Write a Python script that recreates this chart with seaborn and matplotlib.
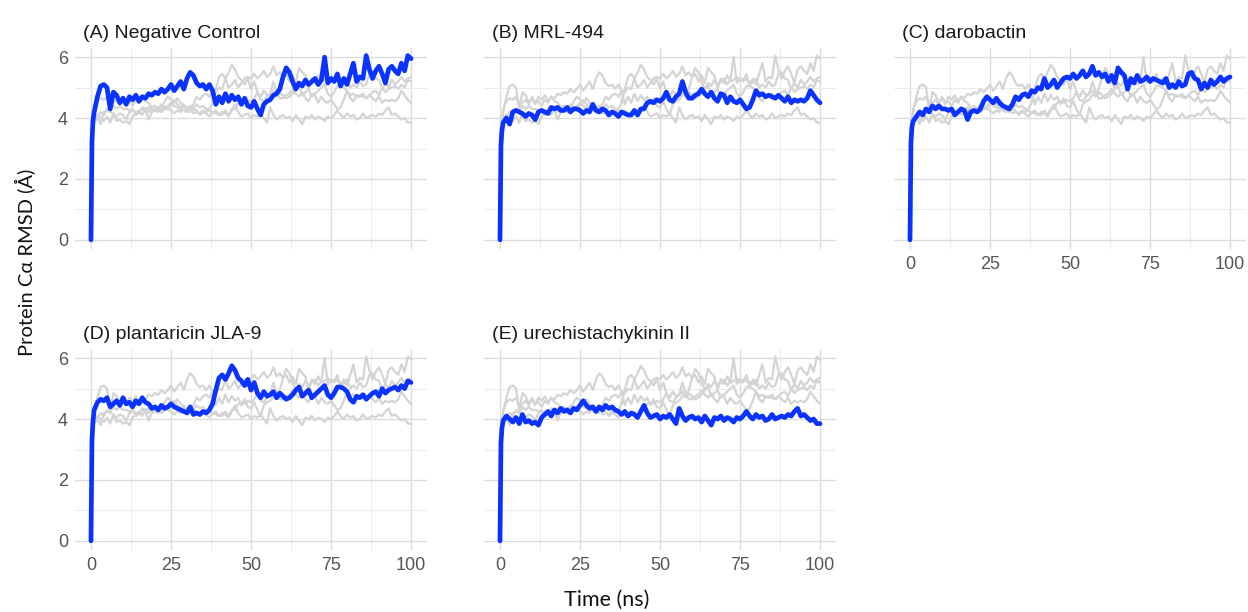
import matplotlib
matplotlib.use("Agg")
import matplotlib.pyplot as plt
import numpy as np
import pandas as pd
import seaborn as sns

# sampling grid (ns): fast initial rise, then 1 ns steps
time_ns = [0, 0.3, 0.6] + list(range(1, 101))

systems = [
    "(A) Negative Control",
    "(B) MRL-494",
    "(C) darobactin",
    "(D) plantaricin JLA-9",
    "(E) urechistachykinin II",
]

rmsd_a = [0.0, 3.2, 3.9,
          4.2, 4.7, 5.05, 5.1, 5.0, 4.3, 4.85, 4.75, 4.5, 4.65,
          4.45, 4.7, 4.6, 4.75, 4.55, 4.7, 4.65, 4.8, 4.75, 4.85,
          4.8, 4.95, 4.85, 4.95, 5.1, 4.9, 5.05, 5.2, 4.95, 5.3,
          5.5, 5.4, 5.15, 5.05, 5.1, 4.95, 5.1, 4.9, 4.45, 4.7,
          4.5, 4.8, 4.55, 4.75, 4.6, 4.7, 4.45, 4.65, 4.4, 4.35,
          4.55, 4.3, 4.1, 4.45, 4.55, 4.6, 4.75, 4.8, 4.95, 5.35,
          5.65, 5.5, 5.2, 4.95, 5.15, 5.05, 5.25, 5.1, 5.2, 5.3,
          5.1, 5.25, 6.0, 5.15, 5.3, 5.2, 5.45, 5.05, 5.3, 5.1,
          5.45, 5.8, 5.2, 5.35, 5.3, 6.05, 5.6, 5.3, 5.55, 5.7,
          5.45, 5.15, 5.6, 5.7, 5.55, 5.45, 5.8, 5.55, 6.05, 5.95]

rmsd_b = [0.0, 3.1, 3.6,
          3.85, 4.0, 3.8, 4.2, 4.25, 4.2, 4.15, 4.05, 4.15, 4.1,
          3.95, 4.2, 4.25, 4.2, 4.15, 4.35, 4.3, 4.35, 4.25, 4.25,
          4.35, 4.2, 4.3, 4.3, 4.25, 4.15, 4.25, 4.2, 4.45, 4.25,
          4.2, 4.3, 4.25, 4.1, 4.2, 4.15, 4.05, 4.2, 4.15, 4.1,
          4.1, 4.25, 4.1, 4.3, 4.3, 4.5, 4.55, 4.5, 4.6, 4.55,
          4.65, 4.85, 4.6, 4.55, 4.7, 4.8, 5.2, 4.85, 4.65, 4.65,
          4.75, 4.8, 4.95, 4.8, 4.7, 4.85, 4.65, 4.55, 4.8, 4.75,
          4.5, 4.7, 4.55, 4.5, 4.6, 4.45, 4.3, 4.35, 4.6, 4.9,
          4.75, 4.8, 4.7, 4.75, 4.7, 4.65, 4.75, 4.65, 4.55, 4.7,
          4.5, 4.6, 4.55, 4.6, 4.55, 4.65, 4.9, 4.75, 4.6, 4.5]

rmsd_c = [0.0, 3.2, 3.7,
          3.9, 4.05, 4.2, 4.1, 4.3, 4.2, 4.4, 4.3, 4.4, 4.3,
          4.3, 4.25, 4.3, 4.1, 4.2, 4.3, 4.25, 3.95, 4.2, 4.25,
          4.2, 4.3, 4.55, 4.7, 4.6, 4.5, 4.65, 4.5, 4.4, 4.35,
          4.3, 4.45, 4.7, 4.6, 4.75, 4.8, 4.7, 4.9, 4.85, 5.0,
          4.95, 5.3, 5.0, 5.1, 5.25, 5.0, 5.15, 5.3, 5.35, 5.3,
          5.45, 5.3, 5.4, 5.55, 5.35, 5.45, 5.7, 5.4, 5.5, 5.35,
          5.45, 5.2, 5.4, 5.15, 5.65, 5.5, 5.4, 4.95, 5.3, 5.15,
          5.4, 5.2, 5.25, 5.35, 5.2, 5.3, 5.25, 5.2, 5.15, 5.3,
          5.0, 5.1, 5.0, 5.2, 5.05, 5.1, 5.45, 5.5, 5.3, 5.25,
          4.95, 5.15, 5.0, 5.25, 5.1, 5.2, 5.35, 5.2, 5.3, 5.35]

rmsd_d = [0.0, 3.3, 3.9,
          4.3, 4.55, 4.65, 4.6, 4.7, 4.4, 4.5, 4.6, 4.45, 4.7,
          4.5, 4.55, 4.4, 4.6, 4.5, 4.7, 4.55, 4.5, 4.35, 4.4,
          4.3, 4.45, 4.35, 4.4, 4.5, 4.4, 4.35, 4.3, 4.25, 4.2,
          4.4, 4.15, 4.2, 4.15, 4.25, 4.2, 4.3, 4.5, 4.95, 5.35,
          5.45, 5.3, 5.5, 5.75, 5.6, 5.35, 5.25, 5.1, 5.3, 4.95,
          5.2, 4.85, 4.7, 4.9, 4.75, 4.8, 4.9, 4.7, 4.85, 4.75,
          4.65, 4.7, 4.8, 4.95, 5.05, 4.75, 4.85, 4.95, 4.7, 4.8,
          4.9, 5.0, 5.1, 4.8, 4.7, 4.85, 5.05, 5.05, 5.0, 4.9,
          4.65, 4.55, 4.75, 4.7, 4.8, 4.65, 4.75, 4.85, 4.9, 4.75,
          5.0, 4.85, 4.95, 5.0, 5.05, 4.95, 5.1, 5.0, 5.25, 5.2]

rmsd_e = [0.0, 3.2, 3.7,
          3.95, 4.1, 4.0, 3.9, 4.05, 3.85, 4.15, 3.9, 3.95, 3.85,
          3.9, 3.8, 4.05, 4.15, 4.25, 4.1, 4.3, 4.2, 4.35, 4.25,
          4.3, 4.2, 4.35, 4.3, 4.45, 4.6, 4.45, 4.35, 4.4, 4.25,
          4.4, 4.3, 4.45, 4.35, 4.4, 4.3, 4.25, 4.15, 4.25, 4.1,
          4.2, 4.15, 4.05, 4.25, 4.45, 4.2, 4.05, 4.1, 4.15, 4.0,
          4.1, 4.05, 4.15, 4.0, 3.85, 4.35, 4.1, 3.95, 4.05, 4.1,
          4.0, 4.05, 3.9, 4.1, 3.95, 3.8, 4.05, 4.0, 4.1, 3.95,
          4.05, 4.0, 3.9, 4.05, 4.0, 4.1, 4.25, 4.1, 4.0, 4.15,
          4.05, 4.1, 3.95, 4.0, 4.15, 4.0, 4.05, 4.1, 4.05, 4.15,
          4.1, 4.25, 4.35, 4.1, 4.15, 4.05, 3.95, 4.0, 3.85, 3.85]

all_rmsd = [rmsd_a, rmsd_b, rmsd_c, rmsd_d, rmsd_e]

df = pd.concat(
    [pd.DataFrame({"time": time_ns, "rmsd": vals, "system": name})
     for name, vals in zip(systems, all_rmsd)],
    ignore_index=True,
)

sns.set_theme(style="white")
plt.rcParams["font.family"] = ["Liberation Sans", "DejaVu Sans"]

fig = plt.figure(figsize=(12.48, 6.12), dpi=100)
W, H = 1248, 612
lefts = [75, 484, 894]
bottoms = [249, 550]  # pixel row of the lower axes edge
pw, ph = 352, 201

grey_line = "#d4d4d4"
blue_line = "#0a33ff"

for i, name in enumerate(systems):
    row, col = divmod(i, 3)
    ax = fig.add_axes([lefts[col] / W, 1 - bottoms[row] / H, pw / W, ph / H])

    sns.lineplot(data=df, x="time", y="rmsd", units="system", estimator=None,
                 color=grey_line, linewidth=1.6, ax=ax, zorder=2)
    sns.lineplot(data=df[df["system"] == name], x="time", y="rmsd",
                 color=blue_line, linewidth=3.4, ax=ax, zorder=3)

    ax.set_xlim(-5, 105)
    ax.set_ylim(-0.3, 6.3)
    ax.set_xticks([0, 25, 50, 75, 100])
    ax.set_xticks([12.5, 37.5, 62.5, 87.5], minor=True)
    ax.set_yticks([0, 2, 4, 6])
    ax.set_yticks([1, 3, 5], minor=True)
    ax.grid(which="major", color="#dcdcdc", linewidth=1.0)
    ax.grid(which="minor", color="#e8e8e8", linewidth=0.6)
    ax.set_axisbelow(True)
    for sp in ax.spines.values():
        sp.set_visible(False)
    ax.tick_params(which="both", length=0, labelsize=13,
                   labelcolor="#555555", pad=5)
    ax.set_xlabel("")
    ax.set_ylabel("")

    show_x = (row == 1) or (col == 2)
    if not show_x:
        ax.set_xticklabels([])
    if col != 0:
        ax.set_yticklabels([])

    ax.text(0.022, 1.03, name, transform=ax.transAxes, ha="left", va="bottom",
            fontsize=14, color="#1a1a1a")

fig.text(607 / W, 1 - 600 / H, "Time (ns)", ha="center", va="center",
         fontsize=15.5, family=["Lato", "DejaVu Sans"], color="#111111")
fig.text(25 / W, 1 - 262 / H, "Protein C\u03b1 RMSD (\u00c5)", ha="center",
         va="center", rotation=90, fontsize=14.5,
         family=["Lato", "DejaVu Sans"], color="#111111")

fig.savefig("out.png", dpi=100)
